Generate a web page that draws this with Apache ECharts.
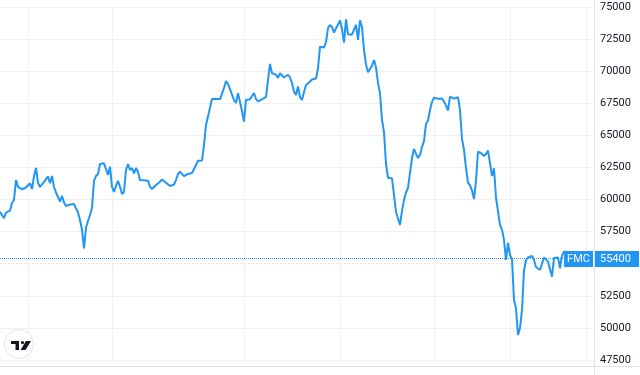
<!DOCTYPE html>
<html><head><meta charset="utf-8">
<script src="https://cdn.jsdelivr.net/npm/echarts@6/dist/echarts.min.js"></script>
<style>html,body{margin:0;padding:0;background:#fff;}#c{width:640px;height:375px;}</style>
</head><body><div id="c"></div>
<script>
const ticker = 'FMC';
const lastPrice = 55400;
const closePrices = [
59050, 58910, 58540, 58980, 59050, 59130, 59730, 59970, 61520, 60980,
61060, 60800, 60940, 60940, 60820, 61270, 60820, 61830, 62460, 61290,
60980, 61090, 61370, 61450, 61800, 61270, 61830, 60980, 60550, 60430,
59830, 60280, 59770, 59500, 59540, 59610, 59730, 59650, 59300, 58990,
58410, 57630, 56200, 57820, 58330, 58800, 59340, 61450, 61830, 61990,
62770, 62820, 62820, 62690, 61910, 62560, 60980, 60590, 61060, 61450,
61000, 60430, 60590, 62300, 62770, 62300, 62460, 62030, 62460, 62150,
61520, 61560, 61500, 61640, 61470, 61000, 60820, 60900, 61130, 61090,
61390, 61560, 61470, 61310, 61160, 61060, 61150, 61170, 61520, 61990,
62170, 61990, 61830, 61910, 61990, 61910, 62070, 61990, 62690, 63030,
63030, 63040, 64250, 65810, 66470, 66510, 67830, 67850, 67860, 67780,
67810, 67910, 68690, 69240, 69000, 68590, 68530, 67760, 67520, 68280,
67600, 66900, 66070, 67760, 67870, 67810, 68070, 68300, 67830, 67650,
67720, 67810, 67870, 67990, 69310, 70560, 69840, 69770, 69730, 69470,
69840, 69820, 69510, 69370, 69720, 69510, 69080, 68400, 68150, 68810,
67990, 67760, 68380, 68920, 68980, 69180, 69350, 69310, 69430, 70210,
71910, 72040, 71850, 72270, 73360, 73600, 73440, 73010, 73340, 73640,
73950, 73290, 72220, 74040, 72880, 72950, 72840, 72860, 73600, 72430,
73960, 73440, 71650, 70520, 69920, 69960, 70430, 70870, 70290, 69080,
68280, 66200, 65260, 62770, 61700, 61660, 61640, 60350, 59030, 59130,
58020, 59110, 59970, 60550, 60900, 61000, 63240, 63940, 63570, 63240,
63470, 64090, 64560, 65890, 66160, 66980, 67610, 67930, 68010, 67850,
67970, 67870, 67650, 67340, 66920, 68010, 67890, 67860, 67930, 67970,
66980, 64730, 63880, 62460, 61290, 61130, 60700, 60040, 61470, 63740,
63860, 63550, 63390, 63550, 63810, 62820, 61830, 62440, 60160, 59070,
58020, 57660, 56850, 55290, 56620, 55680, 55350, 52180, 51530, 49450,
49990, 51400, 54470, 55290, 55490, 55550, 55600, 55290, 54750, 54640,
54510, 54380, 55490, 55530, 55160, 55130, 53990, 55450, 55550, 55490,
54640, 55640, 55940, 55940
];
const emptyTail = 14;
const verticalGridIdx = [14, 56, 122, 170, 217, 255, 293];
const yMin = 47500, yMax = 75000, yStep = 2500;

const categories = [];
for (let i = 0; i < closePrices.length + emptyTail; i++) categories.push(String(i + 1));
const seriesData = closePrices.concat(new Array(emptyTail).fill(null));

const BLUE = '#2196F3';
const FONT = 'Roboto, "Liberation Sans", sans-serif';
const chart = echarts.init(document.getElementById('c'), null, {renderer: 'canvas'});
chart.setOption({
  animation: false,
  backgroundColor: '#ffffff',
  grid: {left: 0, right: 46, top: 7, bottom: 15, containLabel: false},
  xAxis: {
    type: 'category', data: categories, boundaryGap: false,
    axisLine: {show: false}, axisTick: {show: false}, axisLabel: {show: false},
    splitLine: {show: true, interval: (idx) => verticalGridIdx.includes(idx),
      lineStyle: {color: '#eef0f3', width: 1}}
  },
  yAxis: {
    type: 'value', position: 'right', min: yMin, max: yMax, interval: yStep,
    axisLine: {show: false}, axisTick: {show: false},
    axisLabel: {color: '#131722', fontSize: 11, fontFamily: FONT, margin: 6,
      formatter: (v) => String(v)},
    splitLine: {lineStyle: {color: '#eef0f3', width: 1}}
  },
  series: [{
    type: 'line', data: seriesData, showSymbol: false, symbol: 'none',
    lineStyle: {color: BLUE, width: 2}, itemStyle: {color: BLUE},
    markLine: {
      silent: true, symbol: 'none', animation: false,
      data: [{yAxis: lastPrice}],
      lineStyle: {color: BLUE, type: 'dotted', width: 1},
      label: {show: false}
    }
  }]
});

const py = Math.round(chart.convertToPixel({yAxisIndex: 0}, lastPrice));
const W = chart.getWidth();
const axisX = W - 46;
chart.setOption({
  graphic: [
    {type: 'line', shape: {x1: axisX + 0.5, y1: 0, x2: axisX + 0.5, y2: 375}, style: {stroke: '#e0e3eb', lineWidth: 1}, z: 10},
    {type: 'line', shape: {x1: 0, y1: 366.5, x2: W, y2: 366.5}, style: {stroke: '#e0e3eb', lineWidth: 1}, z: 10},
    {type: 'rect', shape: {x: axisX - 30, y: py - 8, width: 29, height: 16}, style: {fill: BLUE}, z: 20},
    {type: 'text', x: axisX - 15.5, y: py, style: {text: ticker, fill: '#fff', font: '11px ' + FONT, align: 'center', verticalAlign: 'middle'}, z: 21},
    {type: 'rect', shape: {x: axisX + 1, y: py - 8, width: 44, height: 16}, style: {fill: BLUE}, z: 20},
    {type: 'text', x: axisX + 6, y: py, style: {text: String(lastPrice), fill: '#fff', font: '11px ' + FONT, align: 'left', verticalAlign: 'middle'}, z: 21},
    {type: 'circle', shape: {cx: 19, cy: 344, r: 14.5}, style: {fill: '#fff', stroke: '#e0e3eb', lineWidth: 1}, z: 20},
    {type: 'rect', shape: {x: 11, y: 341, width: 8, height: 3}, style: {fill: '#131722'}, z: 21},
    {type: 'rect', shape: {x: 15.5, y: 341, width: 3.5, height: 9}, style: {fill: '#131722'}, z: 21},
    {type: 'circle', shape: {cx: 22.5, cy: 342.6, r: 1.6}, style: {fill: '#131722'}, z: 21},
    {type: 'polygon', shape: {points: [[26, 341], [31, 341], [25.5, 350], [20.5, 350]]}, style: {fill: '#131722'}, z: 21}
  ]
});
</script>
</body></html>
